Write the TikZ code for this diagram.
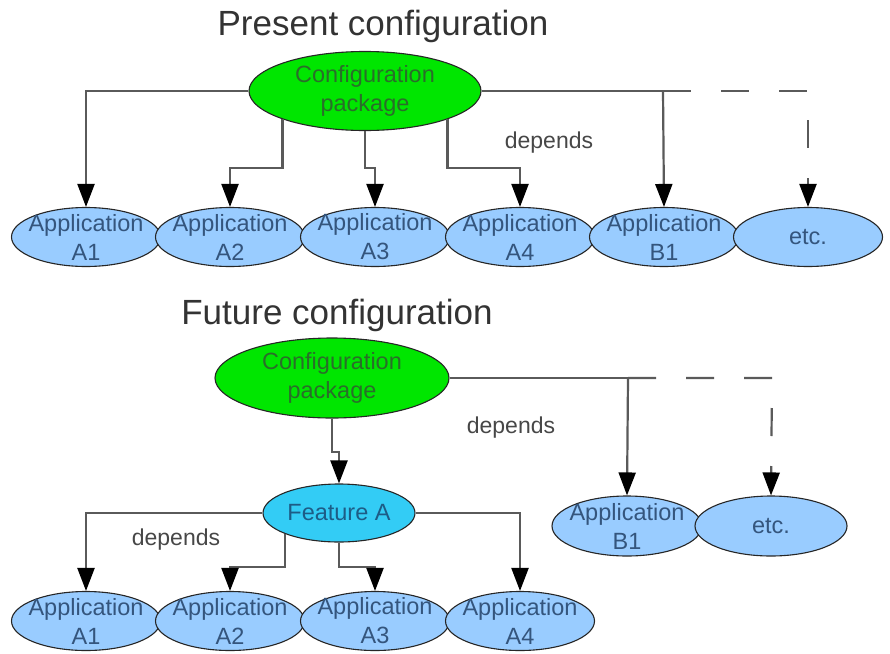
\documentclass[tikz,border=0pt]{standalone}
\usepackage{fontspec}
\setmainfont{Liberation Sans}
\usetikzlibrary{shapes.geometric,arrows.meta}
\definecolor{cfgfill}{HTML}{00E600}
\definecolor{cfgtext}{HTML}{2A6E2A}
\definecolor{appfill}{HTML}{99CCFF}
\definecolor{apptext}{HTML}{34557D}
\definecolor{featfill}{HTML}{33CCF5}
\definecolor{feattext}{HTML}{1D5C86}
\definecolor{linegray}{HTML}{5A5A5A}
\definecolor{titlegray}{HTML}{333333}
\tikzset{
  oval/.style={ellipse, draw=black!85, line width=1.1pt, inner xsep=-9pt, inner ysep=-9pt,
    align=center, font=\fontsize{23.5}{29}\selectfont},
  cfgbox/.style={oval, fill=cfgfill, text=cfgtext, minimum width=232pt, minimum height=79pt},
  appbox/.style={oval, fill=appfill, text=apptext, minimum width=149pt, minimum height=59pt},
  featbox/.style={oval, fill=featfill, text=feattext, minimum width=152pt, minimum height=58pt},
  conn/.style={draw=linegray, line width=2.2pt,
    -{Triangle[width=17pt,length=23pt,color=black]}},
  dconn/.style={conn, dash pattern=on 28pt off 30pt},
  plain/.style={draw=linegray, line width=2.2pt},
  title/.style={text=titlegray, font=\fontsize{35}{40}\selectfont, anchor=base},
  lbl/.style={text=titlegray!90, font=\fontsize{23}{27}\selectfont}
}
\begin{document}
\begin{tikzpicture}[x=1pt,y=-1pt]
\fill[white] (0,0) rectangle (890,653);
\useasboundingbox (0,0) rectangle (890,653);

% ---------- present configuration ----------
\node[title] (t1) at (383,35) {Present configuration};
\node[cfgbox] (cfg) at (365,91) {Configuration\\package};

\node[appbox] (a1) at (86,237) {Application\\A1};
\node[appbox] (a2) at (230,237) {Application\\A2};
\node[appbox] (a3) at (375,237) {Application\\A3};
\node[appbox] (a4) at (520,237) {Application\\A4};
\node[appbox] (b1) at (664,237) {Application\\B1};
\node[appbox] (etc) at (808,237) {etc.};

\coordinate (j2) at (230,168);
\coordinate (j3) at (375,168);
\coordinate (j4) at (520,168);
\coordinate (jb) at (663,91);
\coordinate (je) at (808,91);

\draw[conn] (cfg.west) -| (a1.north);
\draw[conn] (cfg.south west) |- (j2) -- (a2.north);
\draw[conn] (cfg.south) |- (j3) -- (a3.north);
\draw[conn] (cfg.south east) |- (j4) -- (a4.north);
\draw[plain] (cfg.east) -- (jb);
\draw[conn] (jb) -- (b1.north);
\draw[dconn] (jb) -- (je) -- (etc.north);

\node[lbl] (dep1) at (549,143) {depends};

% ---------- future configuration ----------
\node[title] (t2) at (337,324) {Future configuration};
\node[cfgbox, minimum width=234pt, minimum height=80pt] (cfgf) at (332,378) {Configuration\\package};
\node[featbox] (fa) at (339,513) {Feature A};

\node[appbox] (fa1) at (86,621) {Application\\A1};
\node[appbox] (fa2) at (230,621) {Application\\A2};
\node[appbox] (fa3) at (375,621) {Application\\A3};
\node[appbox] (fa4) at (520,621) {Application\\A4};
\node[appbox, minimum width=150pt, minimum height=60pt] (fb1) at (627,526) {Application\\B1};
\node[appbox, minimum width=152pt, minimum height=60pt] (fetc) at (771,526) {etc.};

\coordinate (jf) at (339,452);
\coordinate (k2) at (230,567);
\coordinate (k3) at (375,567);
\coordinate (kb) at (628,378);
\coordinate (ke) at (772,378);

\draw[conn] (cfgf.south) |- (jf) -- (fa.north);
\draw[conn] (fa.west) -| (fa1.north);
\draw[conn] (fa.south west) |- (k2) -- (fa2.north);
\draw[conn] (fa.south) |- (k3) -- (fa3.north);
\draw[conn] (fa.east) -| (fa4.north);
\draw[plain] (cfgf.east) -- (kb);
\draw[conn] (kb) -- (fb1.north);
\draw[dconn] (kb) -- (ke) -- (fetc.north);

\node[lbl] (dep2) at (511,428) {depends};
\node[lbl] (dep3) at (176,540) {depends};
\end{tikzpicture}
\end{document}
